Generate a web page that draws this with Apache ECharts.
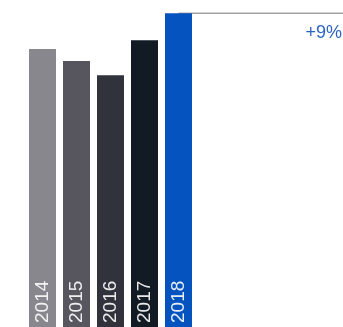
<!DOCTYPE html>
<html>
<head>
<meta charset="utf-8">
<script src="https://cdn.jsdelivr.net/npm/echarts@6/dist/echarts.min.js"></script>
<style>
  html, body { margin: 0; padding: 0; background: #fff; }
  #chart { width: 343px; height: 327px; }
</style>
</head>
<body>
<div id="chart"></div>
<script>
// Yearly index, 2017 = 100
const years = ['2014', '2015', '2016', '2017', '2018'];
const values = [96.9, 92.7, 87.8, 100, 109.4];
const barColors = ['#87878d', '#57565f', '#31333c', '#121a23', '#0453be'];

const last = values.length - 1;
const axisEnd = 9; // category axis runs past the bars to leave room on the right
const growth = Math.round((values[last] / values[last - 1] - 1) * 100);
const growthLabel = (growth >= 0 ? '+' : '') + growth + '%';

const chart = echarts.init(document.getElementById('chart'), null, { renderer: 'canvas' });

chart.setOption({
  animation: false,
  grid: {
    left: 25.5, top: 0, bottom: 0, width: 340,
    containLabel: false,
    outerBoundsMode: 'none'
  },
  title: {
    text: growthLabel,
    right: 1,
    top: 24,
    padding: 0,
    textStyle: {
      fontFamily: 'Liberation Sans, Arial, sans-serif',
      fontSize: 18,
      fontWeight: 'normal',
      color: '#2c63c3'
    }
  },
  xAxis: {
    type: 'category',
    data: years,
    max: axisEnd,
    show: false
  },
  yAxis: {
    type: 'value',
    min: 0,
    max: 114,
    show: false
  },
  series: [
    {
      // level line carried from the latest year to the right edge
      type: 'line',
      z: 1,
      silent: true,
      showSymbol: false,
      symbol: 'none',
      lineStyle: { color: '#767676', width: 1 },
      data: [[last, values[last]], [axisEnd, values[last]]]
    },
    {
      type: 'bar',
      z: 2,
      barWidth: 27,
      data: values.map((v, i) => ({ value: v, itemStyle: { color: barColors[i] } })),
      label: {
        show: true,
        position: 'insideBottom',
        rotate: 90,
        align: 'left',
        verticalAlign: 'middle',
        distance: 4,
        formatter: '{b}',
        fontFamily: 'Liberation Sans, Arial, sans-serif',
        fontSize: 19,
        color: 'rgba(255,255,255,0.9)'
      }
    }
  ]
});
</script>
</body>
</html>
